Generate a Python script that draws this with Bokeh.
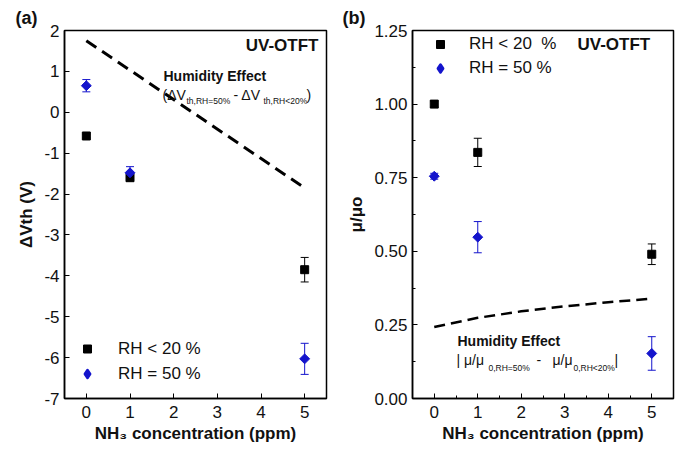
from bokeh.plotting import figure
from bokeh.layouts import row
from bokeh.models import (ColumnDataSource, Whisker, TeeHead, Label, Legend, LegendItem,
                          FixedTicker, NumeralTickFormatter, Range1d)
from bokeh.embed import file_html
from bokeh.resources import INLINE
import math

# ---------------- data ----------------
conc = [0, 1, 5]
dvth_rh20 = [-0.58, -1.6, -3.85]
dvth_rh20_err = [0.05, 0.08, 0.3]
dvth_rh50 = [0.65, -1.48, -6.03]
dvth_rh50_err = [0.15, 0.15, 0.38]

mu_rh20 = [1.00, 0.836, 0.49]
mu_rh20_err = [0.01, 0.048, 0.035]
mu_rh50 = [0.755, 0.548, 0.153]
mu_rh50_err = [0.01, 0.053, 0.057]

humid_a_x = [0, 5]
humid_a = [1.75, -1.85]
humid_b_x = [0, 1, 2, 3, 4, 5]
humid_b = [0.243, 0.274, 0.296, 0.313, 0.327, 0.339]

x_ticks = [0, 1, 2, 3, 4, 5]
ya_ticks = [2, 1, 0, -1, -2, -3, -4, -5, -6, -7]
yb_ticks = [0.0, 0.25, 0.5, 0.75, 1.0, 1.25]

FONT = "Liberation Sans"
BLUE = "#1414CC"
BLACK = "#000000"


def style(p, title, title_offset):
    p.outline_line_color = "black"
    p.outline_line_width = 1.5
    p.xgrid.visible = False
    p.ygrid.visible = False
    p.title.text = title
    p.title.text_font = FONT
    p.title.text_font_size = "18px"
    p.title.text_font_style = "bold"
    p.title.text_color = "#111111"
    p.title.align = "left"
    p.title.offset = title_offset
    p.title.standoff = 6
    for ax in (p.xaxis[0], p.yaxis[0]):
        ax.axis_line_color = "black"
        ax.axis_line_width = 1.5
        ax.major_tick_in = 5
        ax.major_tick_out = 0
        ax.minor_tick_in = 3
        ax.minor_tick_out = 0
        ax.major_tick_line_color = "black"
        ax.minor_tick_line_color = "black"
        ax.major_label_text_font = FONT
        ax.major_label_text_font_size = "17px"
        ax.major_label_text_color = "#111111"
        ax.axis_label_text_font = FONT
        ax.axis_label_text_font_style = "bold"
        ax.axis_label_text_font_size = "17px"
        ax.axis_label_text_color = "#111111"
    p.xaxis[0].major_label_standoff = 7
    p.xaxis[0].axis_label_standoff = 3


def add_label(p, x, y, text, size="17px", bold=False, align="left", color="#111111"):
    p.add_layout(Label(x=x, y=y, x_units="screen", y_units="screen", text=text,
                       text_font=FONT, text_font_size=size,
                       text_font_style="bold" if bold else "normal",
                       text_align=align, text_baseline="middle", text_color=color))


def add_series(p, x, y, err, color, marker, size, angle=0.0):
    lower = [a - e for a, e in zip(y, err)]
    upper = [a + e for a, e in zip(y, err)]
    src = ColumnDataSource(dict(x=x, y=y, lower=lower, upper=upper))
    w = Whisker(base="x", lower="lower", upper="upper", source=src, dimension="height",
                line_color=color, line_width=1,
                upper_head=TeeHead(size=8, line_color=color, line_width=1),
                lower_head=TeeHead(size=8, line_color=color, line_width=1))
    p.add_layout(w)
    r = p.scatter("x", "y", source=src, marker=marker, size=size, angle=angle,
                  fill_color=color, line_color=color)
    return r, src


def diamond_proxy(p, src):
    # hidden renderer of the same series, used only so the legend shows a diamond symbol
    return p.scatter("x", "y", source=src, marker="diamond", size=10, fill_color=BLUE,
                     line_color=BLUE, line_width=2.5, line_join="round", visible=False)


FH = 368
A_LEFT, A_BOTTOM = 64, 398
B_LEFT, B_BOTTOM = 412, 397

# ---------------- panel (a) ----------------
pa = figure(frame_width=262, frame_height=FH, output_backend="svg", toolbar_location=None,
            x_range=Range1d(-0.5, 5.5), y_range=Range1d(-7, 2),
            min_border_left=64, min_border_right=14, min_border_top=30, min_border_bottom=45)
style(pa, "(a)", 15 - A_LEFT)
pa.xaxis.ticker = FixedTicker(ticks=x_ticks)
pa.yaxis.ticker = FixedTicker(ticks=ya_ticks)
pa.yaxis.major_label_overrides = {t: str(t) for t in ya_ticks}
pa.xaxis.axis_label = "NH₃ concentration (ppm)"
pa.yaxis.axis_label = "ΔVth (V)"

pa.line(humid_a_x, humid_a, line_color="black", line_width=3, line_dash="12 7")
ra20, _ = add_series(pa, conc, dvth_rh20, dvth_rh20_err, BLACK, "square", 8)
ra50, src_a50 = add_series(pa, conc, dvth_rh50, dvth_rh50_err, BLUE, "square", 7, math.pi / 4)
pa_proxy = diamond_proxy(pa, src_a50)

leg_a = Legend(items=[LegendItem(label="RH < 20 %", renderers=[ra20]),
                      LegendItem(label="RH = 50 %", renderers=[pa_proxy])],
               location=(13, 12), padding=0, margin=0, spacing=0,
               glyph_width=20, glyph_height=25, label_height=25, label_standoff=21,
               border_line_color=None, background_fill_alpha=0, inactive_fill_alpha=0,
               label_text_font=FONT, label_text_font_size="17px", label_text_color="#111111")
pa.add_layout(leg_a, "center")

add_label(pa, 318 - A_LEFT, A_BOTTOM - 45, "UV-OTFT", size="17px", bold=True, align="right")
add_label(pa, 163 - A_LEFT, A_BOTTOM - 75, "Humidity Effect", size="14px", bold=True)
add_label(pa, 162 - A_LEFT, A_BOTTOM - 94, "(ΔV", size="14px")
add_label(pa, 186 - A_LEFT, A_BOTTOM - 100, "th,RH=50%", size="8.5px")
add_label(pa, 233 - A_LEFT, A_BOTTOM - 94, "- ΔV", size="14px")
add_label(pa, 263 - A_LEFT, A_BOTTOM - 100, "th,RH<20%", size="8.5px")
add_label(pa, 306 - A_LEFT, A_BOTTOM - 94, ")", size="14px")

# ---------------- panel (b) ----------------
pb = figure(frame_width=261, frame_height=FH, output_backend="svg", toolbar_location=None,
            x_range=Range1d(-0.5, 5.5), y_range=Range1d(0, 1.25),
            min_border_left=72, min_border_right=4, min_border_top=29, min_border_bottom=46)
style(pb, "(b)", 342 - B_LEFT)
pb.xaxis.ticker = FixedTicker(ticks=x_ticks, minor_ticks=[-0.5 + 0.5 * i for i in range(13)])
pb.yaxis.ticker = FixedTicker(ticks=yb_ticks, minor_ticks=[0.125 * i for i in range(11)])
pb.yaxis.formatter = NumeralTickFormatter(format="0.00")
pb.xaxis.axis_label = "NH₃ concentration (ppm)"
pb.yaxis.axis_label = "μ/μo"

pb.line(humid_b_x, humid_b, line_color="black", line_width=2.5, line_dash="11 6")
rb20, _ = add_series(pb, conc, mu_rh20, mu_rh20_err, BLACK, "square", 8)
rb50, src_b50 = add_series(pb, conc, mu_rh50, mu_rh50_err, BLUE, "square", 7, math.pi / 4)
pb_proxy = diamond_proxy(pb, src_b50)

leg_b = Legend(items=[LegendItem(label="RH < 20  %", renderers=[rb20]),
                      LegendItem(label="RH = 50 %", renderers=[pb_proxy])],
               location=(18, 318), padding=0, margin=0, spacing=0,
               glyph_width=20, glyph_height=24, label_height=24, label_standoff=19,
               border_line_color=None, background_fill_alpha=0, inactive_fill_alpha=0,
               label_text_font=FONT, label_text_font_size="17px", label_text_color="#111111")
pb.add_layout(leg_b, "center")

add_label(pb, 577 - B_LEFT, B_BOTTOM - 43, "UV-OTFT", size="17px", bold=True)
add_label(pb, 457 - B_LEFT, B_BOTTOM - 339, "Humidity Effect", size="14px", bold=True)
add_label(pb, 456 - B_LEFT, B_BOTTOM - 358, "| μ/μ", size="14px")
add_label(pb, 488 - B_LEFT, B_BOTTOM - 366, "0,RH=50%", size="8.5px")
add_label(pb, 536 - B_LEFT, B_BOTTOM - 358, "-", size="14px")
add_label(pb, 552 - B_LEFT, B_BOTTOM - 358, "μ/μ", size="14px")
add_label(pb, 573 - B_LEFT, B_BOTTOM - 366, "0,RH<20%", size="8.5px")
add_label(pb, 614 - B_LEFT, B_BOTTOM - 358, "|", size="14px")

layout = row(pa, pb)
open("out.html", "w").write(file_html(layout, INLINE))
